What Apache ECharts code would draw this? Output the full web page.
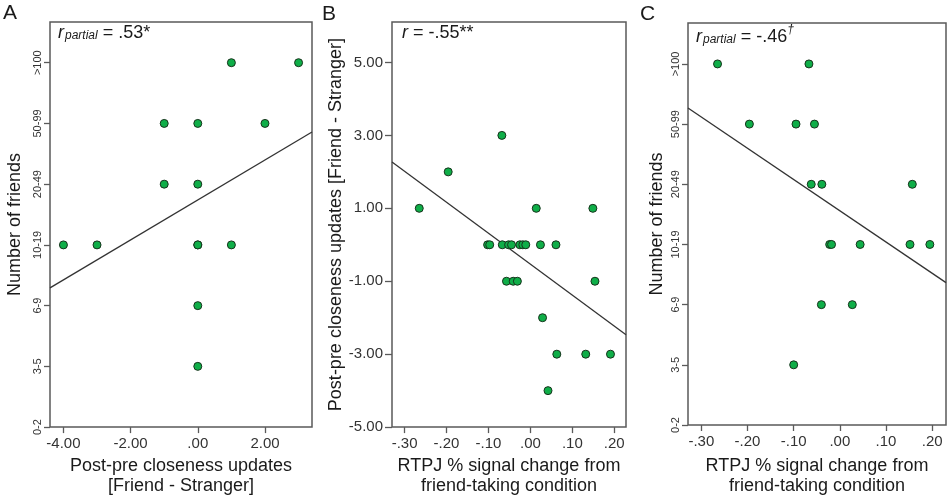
<!DOCTYPE html>
<html>
<head>
<meta charset="utf-8">
<script src="https://cdn.jsdelivr.net/npm/echarts@6/dist/echarts.min.js"></script>
<style>html,body{margin:0;padding:0;background:#fff}#c{width:950px;height:501px}</style>
</head>
<body>
<div id="c"></div>
<script>
// ---- Data ----
const friendCats = ['0-2', '3-5', '6-9', '10-19', '20-49', '50-99', '>100'];

// Panel A: closeness update vs number of friends (category index 0..6)
const aX = [-4, -3, 0, 0, 1, -1, 0, -1, 0, 2, 1, 3, 0, 0];
const aY = [3, 3, 3, 3, 3, 4, 4, 5, 5, 5, 6, 6, 2, 1];
const aFit = [3.74, 0.329]; // intercept, slope

// Panel B: RTPJ signal change vs closeness update
const bX = [-0.265, -0.196, -0.068, 0.014, 0.149,
  -0.102, -0.097, -0.067, -0.052, -0.045, -0.025, -0.018, -0.011, 0.024, 0.061,
  -0.057, -0.041, -0.031, 0.154, 0.029, 0.063, 0.132, 0.191, 0.042];
const bY = [1, 2, 3, 1, 1,
  0, 0, 0, 0, 0, 0, 0, 0, 0, 0,
  -1, -1, -1, -1, -2, -3, -3, -3, -4];
const bFit = [-0.53, -8.49];

// Panel C: RTPJ signal change vs number of friends
const cX = [-0.265, -0.067, -0.196, -0.095, -0.055, -0.062, -0.039, 0.157,
  -0.022, -0.018, 0.044, 0.152, 0.195, -0.040, 0.027, -0.100];
const cY = [6, 6, 5, 5, 5, 4, 4, 4, 3, 3, 3, 3, 3, 2, 2, 1];
const cFit = [3.56, -5.19];

const aXTicks = [-4, -2, 0, 2];
const rtpjTicks = [-0.3, -0.2, -0.1, 0, 0.1, 0.2];
const bYTicks = [-5, -3, -1, 1, 3, 5];
const catTicks = [0, 1, 2, 3, 4, 5, 6];

const axRange = { a: [-4.4, 3.4], b: [-0.33, 0.228], c: [-0.329, 0.230] };

// ---- Helpers ----
function fmt(v) {
  const s = Math.abs(v).toFixed(2).replace(/^0\./, '.');
  return (v < -1e-9 ? '-' : '') + s;
}
function pts(xs, ys) { return xs.map((x, i) => [x, ys[i]]); }
function fitLine(f, r) { return r.map(x => [x, f[0] + f[1] * x]); }

const FONT = 'Liberation Sans, Arial, Helvetica, sans-serif';
const TXT = '#1a1a1a';
const BORDER = '#5a5a5a';

function grid(l, t, w, h) {
  return { left: l, top: t, width: w, height: h, show: true, borderColor: BORDER, borderWidth: 1.5, backgroundColor: 'transparent', containLabel: false };
}
function xAxis(idx, range, ticks, name, gap) {
  return {
    type: 'value', gridIndex: idx, min: range[0], max: range[1],
    splitLine: { show: false },
    axisLine: { show: false, onZero: false },
    axisTick: { show: true, length: 6, lineStyle: { color: BORDER, width: 1.3 }, customValues: ticks },
    axisLabel: { customValues: ticks, formatter: fmt, fontSize: 15, color: '#333', fontFamily: FONT, margin: 9 },
    name: name, nameLocation: 'middle', nameGap: gap,
    nameTextStyle: { fontSize: 18, color: TXT, fontFamily: FONT, lineHeight: 20 }
  };
}
function yCatAxis(idx, max, name, gap) {
  return {
    type: 'value', gridIndex: idx, min: 0, max: max,
    splitLine: { show: false },
    axisLine: { show: false, onZero: false },
    axisTick: { show: true, length: 6, lineStyle: { color: BORDER, width: 1.3 }, customValues: catTicks },
    axisLabel: { customValues: catTicks, formatter: v => friendCats[Math.round(v)], rotate: 90, fontSize: 11, color: '#333', fontFamily: FONT, margin: 7 },
    name: name, nameLocation: 'middle', nameGap: gap,
    nameTextStyle: { fontSize: 18, color: TXT, fontFamily: FONT }
  };
}
function scatter(idx, data) {
  return {
    type: 'scatter', xAxisIndex: idx, yAxisIndex: idx, data: data, symbolSize: 8,
    itemStyle: { color: '#0fae48', borderColor: '#17331c', borderWidth: 1, opacity: 1 }, z: 3
  };
}
function line(idx, data) {
  return {
    type: 'line', xAxisIndex: idx, yAxisIndex: idx, data: data, showSymbol: false, symbol: 'none',
    lineStyle: { color: '#333', width: 1.3 }, z: 2, silent: true
  };
}
function annot(x, y, text) {
  return {
    type: 'text', left: x, top: y, z: 10,
    style: {
      text: text, fill: TXT, fontFamily: FONT,
      rich: {
        r: { fontSize: 18, fontStyle: 'italic', fontFamily: FONT, fill: TXT, lineHeight: 22, verticalAlign: 'bottom' },
        s: { fontSize: 12, fontStyle: 'italic', fontFamily: FONT, fill: TXT, lineHeight: 22, verticalAlign: 'bottom', padding: [0, 0, 0, 1] },
        n: { fontSize: 18, fontFamily: FONT, fill: TXT, lineHeight: 22, verticalAlign: 'bottom' },
        d: { fontSize: 12, fontStyle: 'italic', fontFamily: FONT, fill: TXT, lineHeight: 22, verticalAlign: 'top' }
      }
    }
  };
}
function letter(x, y, t) {
  return { type: 'text', left: x, top: y, style: { text: t, fontSize: 21, fontFamily: FONT, fill: TXT } };
}

const chart = echarts.init(document.getElementById('c'), null, { renderer: 'canvas' });
chart.setOption({
  animation: false,
  backgroundColor: '#fff',
  grid: [grid(50, 22, 262, 408), grid(392, 22, 234, 407), grid(688, 23, 258, 403)],
  xAxis: [
    xAxis(0, axRange.a, aXTicks, 'Post-pre closeness updates\n[Friend - Stranger]', 27),
    xAxis(1, axRange.b, rtpjTicks, 'RTPJ % signal change from\nfriend-taking condition', 27),
    xAxis(2, axRange.c, rtpjTicks, 'RTPJ % signal change from\nfriend-taking condition', 31)
  ],
  yAxis: [
    yCatAxis(0, 6.67, 'Number of friends', 26),
    {
      type: 'value', gridIndex: 1, min: -5, max: 6.11,
      splitLine: { show: false }, axisLine: { show: false, onZero: false },
      axisTick: { show: true, length: 7, lineStyle: { color: BORDER, width: 1.3 }, customValues: bYTicks },
      axisLabel: { customValues: bYTicks, formatter: fmt, fontSize: 15, color: '#333', fontFamily: FONT, margin: 9 },
      name: 'Post-pre closeness updates [Friend - Stranger]', nameLocation: 'middle', nameGap: 44,
      nameTextStyle: { fontSize: 18, color: TXT, fontFamily: FONT }
    },
    yCatAxis(2, 6.68, 'Number of friends', 22)
  ],
  series: [
    line(0, fitLine(aFit, axRange.a)), scatter(0, pts(aX, aY)),
    line(1, fitLine(bFit, axRange.b)), scatter(1, pts(bX, bY)),
    line(2, fitLine(cFit, axRange.c)), scatter(2, pts(cX, cY))
  ],
  graphic: [
    letter(3, 3, 'A'), letter(322, 4, 'B'), letter(640, 4, 'C'),
    annot(58, 24, '{r|r}{s|partial}{n| = .53*}'),
    annot(402, 24, '{r|r}{n| = -.55**}'),
    annot(696, 24, '{r|r}{s|partial}{n| = -.46}{d|\u2020}')
  ]
});
</script>
</body>
</html>
